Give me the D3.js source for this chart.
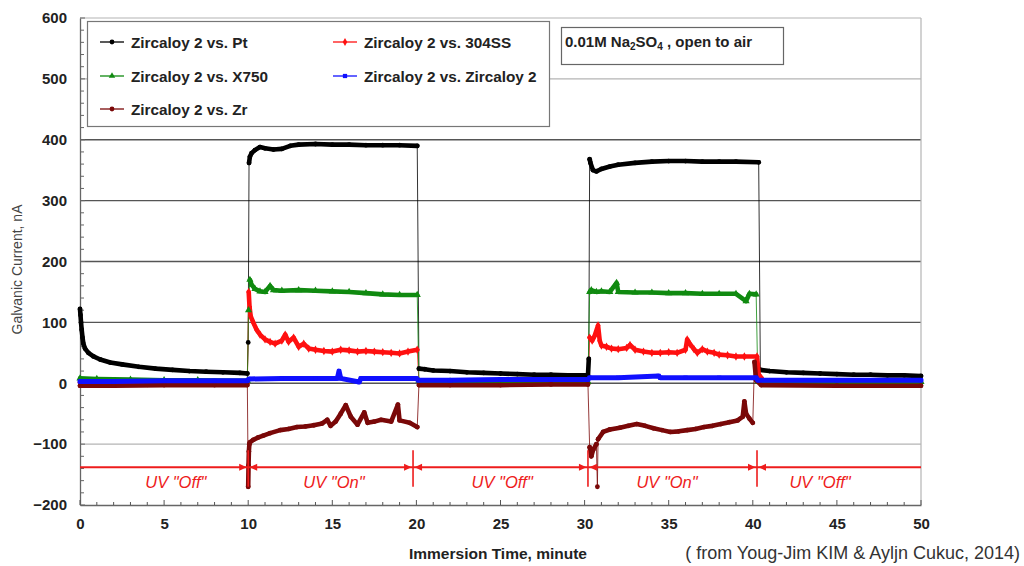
<!DOCTYPE html>
<html><head><meta charset="utf-8">
<script src="https://cdn.jsdelivr.net/npm/d3@7"></script>
<style>body{margin:0;background:#fff}svg{display:block;font-family:Arial,"Liberation Sans",sans-serif}</style>
</head><body><svg id="c" width="1024" height="566"></svg>
<script>
// ---------- data (time in minutes, current in nA) ----------
const seriesNames = ["Zircaloy 2 vs. Pt","Zircaloy 2 vs. 304SS","Zircaloy 2 vs. X750","Zircaloy 2 vs. Zircaloy 2","Zircaloy 2 vs. Zr"];
const seriesColors = ["#000000","#ff1010","#108a10","#1010ff","#7a0808"];
const seriesShapes = ["circle","diamond","triangle","square","circle"];

const ptData = [[0,122],[0.03,112],[0.06,100],[0.1,88],[0.15,75],[0.2,65],[0.3,57],[0.5,50],[0.8,44],[1.2,39],[1.8,34],[2.5,31],[3.5,27],[4.5,24],[5.5,22],[6.5,20],[7.5,19],[8.5,18],[9.5,17],[9.95,16],
 [10.0,67],[10.05,362],[10.1,372],[10.2,378],[10.4,383],[10.7,388],[11.0,386],[11.5,384],[12.0,385],[12.5,390],[13,392],[14,393],[15,392],[16,392],[17,391],[18,391],[19,391],[20.05,390],
 [20.15,24],[20.5,23],[21,21],[22,20],[23,18],[24,17],[25,16],[26,15],[27,14],[28,14],[29,13],[30.2,13],
 [30.25,40],[30.3,368],[30.35,362],[30.5,350],[30.7,348],[31,352],[31.5,356],[32,359],[33,362],[34,364],[35,365],[36,365],[37,364],[38,364],[39,364],[40.35,363],
 [40.45,22],[41,20],[42,18],[43,17],[44,16],[45,15],[46,14],[47,14],[48,13],[49,13],[50,12]];

const ss304Data = [[0,1],[2,1],[4,0],[6,1],[8,1],[9.95,1],
 [10.03,150],[10.08,125],[10.15,110],[10.3,100],[10.5,88],[10.7,80],[11,72],[11.3,68],[11.6,65],[12,70],[12.2,80],[12.4,68],[12.7,75],[13,60],[13.3,65],[13.6,57],[14,55],[14.5,53],[15,52],[15.5,55],[16,54],[16.5,52],[17,53],[17.5,52],[18,51],[18.5,50],[19,49],[19.5,52],[20.05,55],
 [20.15,2],[22,1],[24,1],[26,1],[28,1],[30.2,1],
 [30.3,75],[30.45,70],[30.6,78],[30.8,95],[30.9,70],[31,62],[31.3,60],[31.6,57],[32,56],[32.5,58],[32.7,63],[33,55],[33.5,52],[34,50],[34.5,50],[35,51],[35.5,50],[36,55],[36.1,72],[36.25,65],[36.5,56],[36.7,50],[37,56],[37.3,52],[37.7,50],[38,47],[38.5,46],[39,44],[39.5,44],[40.25,44],
 [40.35,15],[40.6,5],[41,2],[43,1],[45,1],[47,1],[50,1]];

const x750Data = [[0,8],[1,7],[3,6],[5,5],[7,5],[9.95,4],
 [10.02,120],[10.1,170],[10.2,162],[10.4,155],[10.7,151],[11.0,150],[11.3,160],[11.5,153],[12,152],[13,153],[14,152],[15,151],[16,150],[17,148],[18,146],[19,145],[20.05,145],
 [20.15,4],[22,3],[25,2],[28,2],[30.2,2],
 [30.3,150],[30.4,153],[30.7,150],[31,151],[31.5,150],[31.9,165],[32,150],[33,149],[34,149],[35,148],[36,148],[37,147],[38,147],[39,147],[39.6,135],[39.8,147],[40.2,146],
 [40.3,3],[45,2],[50,2]];

const zircData = [[0,3],[2,3],[5,4],[8,4],[9.95,4],[10.05,7],[12,8],[14,8],[15.3,8],[15.4,20],[15.5,8],[16.6,2],[16.7,8],[18,8],[20,8],
 [20.1,5],[22,5],[25,6],[28,6],[30.2,6],[30.3,9],[32,9],[34.4,12],[34.5,9],[36,9],[38,9],[40.2,9],[40.3,5],[42,5],[45,5],[50,5]];

const zrData = [[0,-4],[2,-4],[5,-3],[8,-3],[9.95,-3],
 [10.0,-170],[10.02,-135],[10.04,-112],[10.07,-100],[10.1,-97],[10.3,-93],[10.6,-89],[10.9,-86],[11.3,-82],[11.9,-77],[12.4,-75],[12.9,-72],[13.4,-71],[13.9,-69],[14.4,-66],[14.7,-60],[14.9,-70],[15.2,-63],[15.5,-50],[15.8,-36],[16.1,-55],[16.5,-68],[16.9,-48],[17.1,-65],[17.5,-63],[17.9,-60],[18.5,-63],[18.9,-35],[19.0,-61],[19.6,-65],[20.05,-72],
 [20.15,-3],[22,-3],[25,-3],[28,-2],[30.2,-2],
 [30.3,-105],[30.4,-120],[30.5,-110],[30.7,-100],[30.76,-170],[30.8,-92],[31.1,-80],[31.5,-76],[32.1,-73],[32.6,-70],[33.1,-67],[33.6,-70],[34.1,-74],[34.6,-77],[35.1,-80],[35.6,-79],[36.1,-77],[36.6,-75],[37.1,-72],[37.6,-70],[38.1,-67],[38.6,-64],[39.1,-61],[39.4,-55],[39.5,-30],[39.6,-50],[39.8,-58],[40.0,-65],
 [40.1,35],[40.2,5],[40.5,-3],[45,-4],[50,-4]];

const seriesData = [ptData, ss304Data, x750Data, zircData, zrData];

const xTicks = [0,5,10,15,20,25,30,35,40,45,50];
const yTicks = [-200,-100,0,100,200,300,400,500,600];
const uvBounds = [10, 19.8, 30.2, 40.25];
const uvLabels = ['UV "Off"','UV "On"','UV "Off"','UV "On"','UV "Off"'];
const uvLabelTimes = [5.7, 15.1, 25.1, 34.9, 44.0];
const uvLineLevel = -138;

// ---------- layout ----------
const svg = d3.select("#c");
const m = {l:80, r:103, t:18, b:61};
const W = 1024, H = 566;
const x = d3.scaleLinear().domain([0,50]).range([m.l, W-m.r]);
const y = d3.scaleLinear().domain([-200,600]).range([H-m.b, m.t]);

// gridlines
const lightGrid = new Set([600,500,-100]);
svg.append("g").selectAll("line").data(yTicks.filter(d=>d>-200)).join("line")
  .attr("x1", x(0)).attr("x2", x(50)).attr("y1", d=>y(d)).attr("y2", d=>y(d))
  .attr("stroke", d=> lightGrid.has(d) ? "#b4b4b4" : "#555").attr("stroke-width", d=> lightGrid.has(d)?1.2:1.4);
// right frame
svg.append("line").attr("x1", x(50)).attr("x2", x(50)).attr("y1", y(600)).attr("y2", y(-200)).attr("stroke","#b4b4b4").attr("stroke-width",1.2);

// axes
const yAxis = d3.axisLeft(y).tickValues(yTicks).tickSize(0).tickPadding(13);
const gy = svg.append("g").attr("transform",`translate(${x(0)},0)`).call(yAxis);
const xAxis = d3.axisBottom(x).tickValues(xTicks).tickSize(0).tickPadding(13);
const gx = svg.append("g").attr("transform",`translate(0,${y(-200)})`).call(xAxis);
[gy,gx].forEach(g=>{
  g.select(".domain").attr("stroke","#666").attr("stroke-width",1.3);
  g.selectAll("text").attr("font-size",15).attr("font-weight","bold").attr("fill","#222").attr("font-family","Arial, 'Liberation Sans', sans-serif");
});
// minor ticks (inside)
svg.append("g").selectAll("line").data(d3.range(-200,601,20)).join("line")
  .attr("x1", x(0)).attr("x2", d=> d%100===0 ? x(0)+5 : x(0)+4).attr("y1", d=>y(d)).attr("y2", d=>y(d))
  .attr("stroke","#666");
svg.append("g").selectAll("line").data(d3.range(0,51,1)).join("line")
  .attr("x1", d=>x(d)).attr("x2", d=>x(d)).attr("y1", y(-200)).attr("y2", d=> d%5===0 ? y(-200)-5 : y(-200)-3)
  .attr("stroke","#555");

// ---------- series ----------
const line = d3.line().x(d=>x(d[0])).y(d=>y(d[1]));
function segments(data){
  const segs=[]; let cur=[data[0]];
  for(let i=1;i<data.length;i++){
    const dv=Math.abs(data[i][1]-data[i-1][1]), dt=data[i][0]-data[i-1][0];
    if(dv>40 && dt<0.2){ segs.push(cur); cur=[data[i]]; } else cur.push(data[i]);
  }
  segs.push(cur); return segs;
}
const symType = {circle:d3.symbolCircle, diamond:d3.symbolDiamond, triangle:d3.symbolTriangle, square:d3.symbolSquare};
const symSize = {circle:18, diamond:20, triangle:22, square:18};

// thin connecting lines first (transitions)
seriesData.forEach((data,i)=>{
  svg.append("path").attr("d", line(data)).attr("fill","none").attr("stroke",seriesColors[i]).attr("stroke-width",1).attr("opacity",0.8);
});
// order of thick bands: Pt, 304SS, X750, Zr, then blue on top
const drawOrder = [0,1,2,4,3];
drawOrder.forEach(i=>{
  const data = seriesData[i];
  const g = svg.append("g");
  segments(data).filter(s=>s.length>1).forEach(s=>{
    g.append("path").attr("d", line(s)).attr("fill","none").attr("stroke",seriesColors[i])
      .attr("stroke-width", i===3?5:4.6).attr("stroke-linejoin","round").attr("stroke-linecap","round");
  });
  g.selectAll("path.m").data(data).join("path").attr("class","m")
    .attr("transform", d=>`translate(${x(d[0])},${y(d[1])})`)
    .attr("d", d3.symbol().type(symType[seriesShapes[i]]).size(symSize[seriesShapes[i]]))
    .attr("fill", seriesColors[i]);
});

// ---------- UV annotation ----------
const red = "#ee1c1c";
svg.append("line").attr("x1",x(0)).attr("x2",x(50)).attr("y1",y(uvLineLevel)).attr("y2",y(uvLineLevel)).attr("stroke",red).attr("stroke-width",1.8);
uvBounds.forEach(b=>{
  const xb = x(b), yl = y(uvLineLevel);
  svg.append("line").attr("x1",xb).attr("x2",xb).attr("y1",y(-110)).attr("y2",y(-170)).attr("stroke",red).attr("stroke-width",1.6);
  svg.append("path").attr("d",`M${xb-1.5},${yl} L${xb-9},${yl-3.5} L${xb-9},${yl+3.5} Z`).attr("fill",red);
  svg.append("path").attr("d",`M${xb+1.5},${yl} L${xb+9},${yl-3.5} L${xb+9},${yl+3.5} Z`).attr("fill",red);
});
svg.append("g").selectAll("text").data(uvLabels).join("text")
  .attr("x",(d,i)=>x(uvLabelTimes[i])).attr("y",y(-172)).attr("text-anchor","middle")
  .attr("font-size",16.5).attr("font-style","italic").attr("fill",red).text(d=>d);

// ---------- legend ----------
const lg = svg.append("g");
lg.append("rect").attr("x",87.5).attr("y",21.5).attr("width",462).attr("height",105).attr("fill","#fff").attr("stroke","#777").attr("stroke-width",1.2);
const legPos = [[100,42],[333,42],[100,76],[333,76],[100,109]];
seriesNames.forEach((n,i)=>{
  const [lx,ly]=legPos[i];
  lg.append("line").attr("x1",lx).attr("x2",lx+24).attr("y1",ly).attr("y2",ly).attr("stroke",seriesColors[i]).attr("stroke-width",1.3);
  lg.append("path").attr("transform",`translate(${lx+12},${ly})`).attr("d",d3.symbol().type(symType[seriesShapes[i]]).size(18)).attr("fill",seriesColors[i]);
  lg.append("text").attr("x",lx+31).attr("y",ly+5.5).attr("font-size",15.3).attr("font-weight","bold").attr("fill","#222").text(n);
});

// condition box
const cb = svg.append("g");
cb.append("rect").attr("x",561.5).attr("y",27.5).attr("width",222).attr("height",37).attr("fill","#fff").attr("stroke","#666").attr("stroke-width",1.2);
const ct = cb.append("text").attr("x",565).attr("y",46.5).attr("font-size",15).attr("font-weight","bold").attr("fill","#222");
ct.append("tspan").text("0.01M Na");
ct.append("tspan").attr("font-size",10).attr("dy",3).text("2");
ct.append("tspan").attr("dy",-3).text("SO");
ct.append("tspan").attr("font-size",10).attr("dy",3).text("4");
ct.append("tspan").attr("dy",-3).text(" , open to air");

// axis titles
svg.append("text").attr("transform",`translate(22,${(y(600)+y(-200))/2+8}) rotate(-90)`).attr("text-anchor","middle")
  .attr("font-size",14).attr("fill","#444").text("Galvanic Current, nA");
svg.append("text").attr("x",498).attr("y",559).attr("text-anchor","middle").attr("font-size",15.5).attr("font-weight","bold").attr("fill","#222").text("Immersion Time, minute");
svg.append("text").attr("x",1020).attr("y",559).attr("text-anchor","end").attr("font-size",18).attr("fill","#333").text("( from Youg-Jim KIM & Ayljn Cukuc, 2014)");
</script></body></html>
